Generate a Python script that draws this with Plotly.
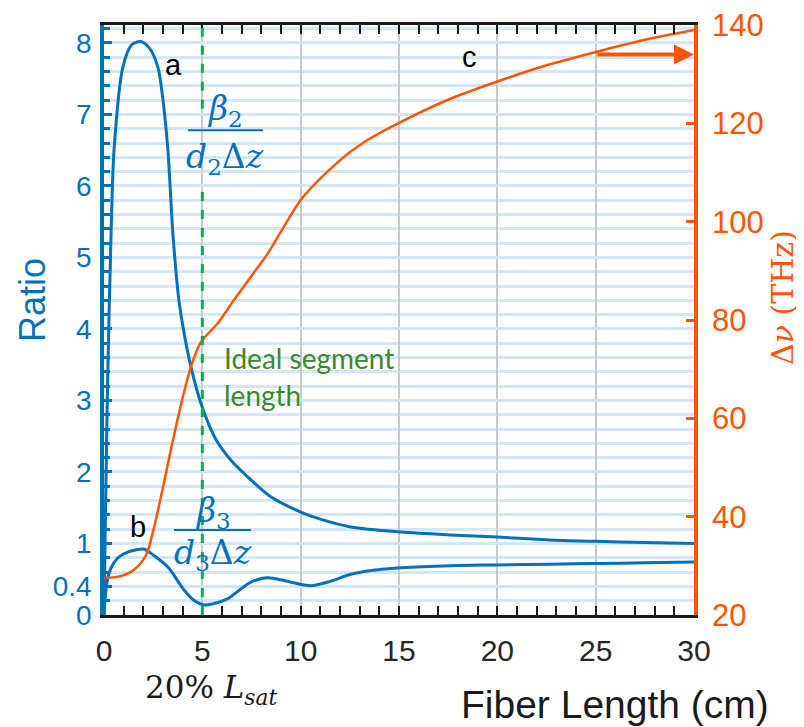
import plotly.graph_objects as go

# ---------------- data ----------------
# curve a : beta2 / (d2 dz)  (left axis, Ratio)
a_x = [0, 0.08, 0.18, 0.36, 0.51, 0.96, 1.4, 1.85, 2.3, 2.74, 3.0, 3.25, 3.5, 3.81, 4.1, 4.42,
       5.0, 5.7, 6.5, 7.47, 8.5, 10, 11, 12.55, 15.1, 17.6, 20, 22.7, 25, 27.5, 30]
a_y = [0, 1.5, 3.2, 5.34, 6.5, 7.66, 7.97, 8.02, 7.93, 7.66, 7.2, 6.5, 5.34, 4.4, 3.9, 3.47,
       2.9, 2.45, 2.15, 1.89, 1.65, 1.44, 1.34, 1.23, 1.16, 1.12, 1.09, 1.05, 1.03, 1.015, 1.0]

# curve b : beta3 / (d3 dz)  (left axis, Ratio)
b_x = [0, 0.05, 0.1, 0.25, 0.5, 0.8, 1.2, 1.6, 2.05, 2.5, 3.25, 4.07, 4.6, 5.1, 5.6, 6.3,
       7.47, 8.3, 9.2, 10.5, 11.5, 12.55, 13.5, 15.1, 17.6, 20, 22.7, 25, 27.5, 30]
b_y = [0, 0.2, 0.35, 0.58, 0.73, 0.82, 0.88, 0.91, 0.92, 0.84, 0.67, 0.35, 0.2, 0.14, 0.16, 0.23,
       0.46, 0.52, 0.48, 0.41, 0.47, 0.57, 0.62, 0.66, 0.69, 0.70, 0.71, 0.72, 0.73, 0.74]

# curve c : bandwidth (right axis, THz)
c_x = [0, 0.86, 1.53, 2.14, 2.55, 3.05, 3.4, 3.9, 4.42, 4.93, 5.8, 6.6, 7.47, 8.34, 9.15, 10,
       10.9, 11.7, 12.5, 13.4, 15.1, 17.5, 20, 22.5, 25, 27.5, 30]
c_y = [27.5, 27.9, 29.2, 32.2, 37.9, 46.9, 53.6, 62.5, 70.5, 75.5, 79.4, 84, 88.8, 93.6, 99, 104.4,
       108.4, 111.4, 114.1, 116.6, 120.3, 124.8, 128.5, 131.8, 134.5, 137, 139]

x_ticks = [0, 5, 10, 15, 20, 25, 30]
ratio_ticks = [0, 0.4, 1, 2, 3, 4, 5, 6, 7, 8]
ratio_ticktext = ["0", "0.4", "1", "2", "3", "4", "5", "6", "7", "8"]
thz_ticks = [20, 40, 60, 80, 100, 120, 140]

L_IDEAL = 5          # ideal segment length (cm)
ARROW_THZ = 134      # level of the arrow to the right axis
ARROW_X = [25, 30]

BLUE = "#0072BD"
ORANGE = "#FF5500"
GREEN = "#00B050"
TEXTGREEN = "#3A8A2C"
SANS = "Liberation Sans, Arial, sans-serif"
SERIF = "DejaVu Serif, serif"

# page offset of the plot div (default body margin)
OFF = 8
W, H = 804 - OFF, 727 - OFF
# plot area in page pixels
PL, PR, PT, PB = 104, 694, 25, 615
def px(x):
    return (x - PL) / (PR - PL)
def py(y):
    return (PB - y) / (PB - PT)

fig = go.Figure()
fig.add_trace(go.Scatter(x=a_x, y=a_y, mode="lines", line=dict(color=BLUE, width=3, shape="spline", smoothing=0.8),
                         showlegend=False, hoverinfo="skip"))
fig.add_trace(go.Scatter(x=b_x, y=b_y, mode="lines", line=dict(color=BLUE, width=3, shape="spline", smoothing=0.8),
                         showlegend=False, hoverinfo="skip"))
fig.add_trace(go.Scatter(x=c_x, y=c_y, mode="lines", yaxis="y2",
                         line=dict(color=ORANGE, width=2.5, shape="spline", smoothing=0.8),
                         showlegend=False, hoverinfo="skip"))

# green dashed ideal-length line (broken behind the beta2 fraction)
for y0, y1 in [(7.08, 8.25), (0, 6.04)]:
    fig.add_shape(type="line", xref="x", yref="y", x0=L_IDEAL, x1=L_IDEAL, y0=y0, y1=y1,
                  line=dict(color=GREEN, width=3, dash="dash"), layer="above")

# fractions
frac_font = dict(family=SERIF, size=33, color=BLUE)
fig.add_annotation(x=6.15, y=7.06, xref="x", yref="y", text="<i>β</i><sub>2</sub>", showarrow=False, font=frac_font)
fig.add_shape(type="line", xref="x", yref="y", x0=4.27, x1=8.08, y0=6.78, y1=6.78, line=dict(color=BLUE, width=2))
fig.add_annotation(x=6.15, y=6.39, xref="x", yref="y", text="<i>d</i><sub>2</sub>Δ<i>z</i>", showarrow=False, font=frac_font)

fig.add_annotation(x=5.54, y=1.43, xref="x", yref="y", text="<i>β</i><sub>3</sub>", showarrow=False, font=frac_font)
fig.add_shape(type="line", xref="x", yref="y", x0=3.56, x1=7.47, y0=1.19, y1=1.19, line=dict(color=BLUE, width=2))
fig.add_annotation(x=5.54, y=0.84, xref="x", yref="y", text="<i>d</i><sub>3</sub>Δ<i>z</i>", showarrow=False, font=frac_font)

# labels a, b, c
for txt, xx, yy in [("a", 3.51, 7.69), ("b", 1.73, 1.23), ("c", 18.56, 7.8)]:
    fig.add_annotation(x=xx, y=yy, xref="x", yref="y", text=txt, showarrow=False,
                       font=dict(family=SANS, size=29, color="black"))

# ideal segment length text
fig.add_annotation(x=6.0, y=3.59, xref="x", yref="y", text="Ideal segment", showarrow=False, xanchor="left",
                   font=dict(family="Lato, sans-serif", size=28, color=TEXTGREEN))
fig.add_annotation(x=6.0, y=3.07, xref="x", yref="y", text="length", showarrow=False, xanchor="left",
                   font=dict(family="Lato, sans-serif", size=28, color=TEXTGREEN))

# arrow to right axis
fig.add_annotation(x=ARROW_X[1], y=ARROW_THZ, ax=ARROW_X[0], ay=ARROW_THZ, xref="x", yref="y2",
                   axref="x", ayref="y2", text="", showarrow=True, arrowhead=2, arrowsize=1,
                   arrowwidth=4, arrowcolor=ORANGE, standoff=0)

# axis titles
title_kw = dict(xref="paper", yref="paper", showarrow=False, xanchor="center", yanchor="middle")
fig.add_annotation(x=px(32), y=py(300), text="Ratio", textangle=-90,
                   font=dict(family=SANS, size=36, color=BLUE), **title_kw)
fig.add_annotation(x=px(782), y=py(298), text="Δ<i>ν</i> (THz)", textangle=-90,
                   font=dict(family=SERIF, size=30, color=ORANGE), **title_kw)
fig.add_annotation(x=px(615), y=py(704), text="Fiber Length (cm)",
                   font=dict(family=SANS, size=39, color="#1a1a1a"), **title_kw)
fig.add_annotation(x=px(211), y=py(689), text="20% <i>L</i><sub><i>sat</i></sub>",
                   font=dict(family=SERIF, size=31, color="#1a1a1a"), **title_kw)

fig.update_layout(
    width=W, height=H,
    margin=dict(l=PL - OFF, r=W - (PR - OFF), t=PT - OFF, b=H - (PB - OFF), autoexpand=False),
    paper_bgcolor="white", plot_bgcolor="white",
    xaxis=dict(range=[0, 30], tickvals=x_ticks, showline=True, linecolor="#1a1a1a", linewidth=3,
               mirror="allticks", ticks="inside", ticklen=9, tickwidth=2, tickcolor="#1a1a1a",
               tickfont=dict(family=SANS, size=30, color="#262626"), automargin=False, ticklabelstandoff=7,
               ticklabeloverflow="allow",
               showgrid=True, gridcolor="#C8C8C8", gridwidth=2, zeroline=False,
               minor=dict(dtick=1, tick0=0, ticks="inside", ticklen=5, tickwidth=2, tickcolor="#1a1a1a", showgrid=False)),
    yaxis=dict(range=[0, 8.25], tickvals=ratio_ticks, ticktext=ratio_ticktext, showline=True, linecolor=BLUE,
               linewidth=3.5, ticks="inside", ticklen=8, tickwidth=2.5, tickcolor=BLUE, automargin=False,
               tickfont=dict(family=SANS, size=28, color=BLUE), ticklabelstandoff=3, ticklabeloverflow="allow",
               showgrid=True, gridcolor="#D3E6F3", gridwidth=3, zeroline=False,
               minor=dict(dtick=0.2, tick0=0, ticks="inside", ticklen=6, tickwidth=2.5, tickcolor=BLUE,
                          showgrid=True, gridcolor="#D3E6F3", gridwidth=3)),
    yaxis2=dict(range=[20, 140], tickvals=thz_ticks, overlaying="y", side="right", showline=True,
                linecolor=ORANGE, linewidth=3.5, ticks="inside", ticklen=8, tickwidth=2.5, tickcolor=ORANGE,
                automargin=False, ticklabelstandoff=8, ticklabeloverflow="allow",
                tickfont=dict(family=SANS, size=31, color=ORANGE), showgrid=False, zeroline=False),
)

fig.write_html("out.html")
